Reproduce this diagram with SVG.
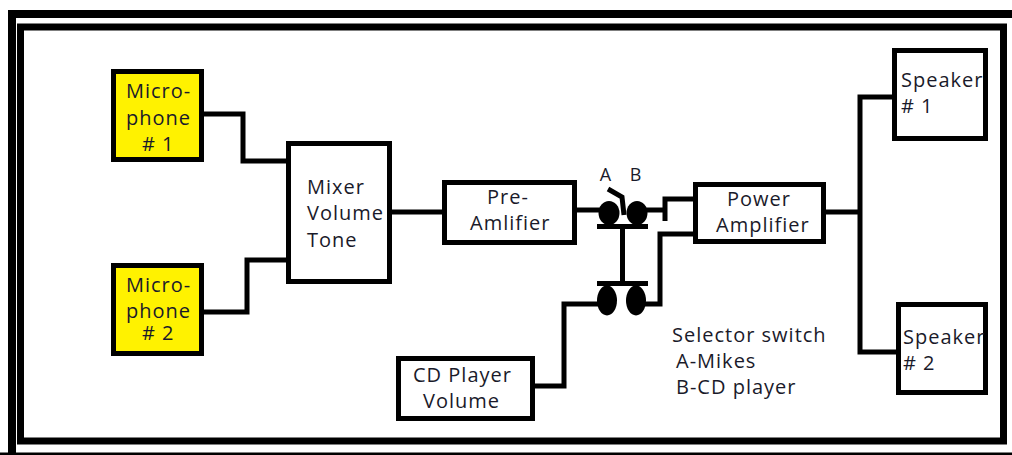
<svg xmlns="http://www.w3.org/2000/svg" width="1012" height="455" viewBox="0 0 1012 455">
<style>
.b{fill:#fff;stroke:#000;stroke-width:5}
.y{fill:#fff200;stroke:#000;stroke-width:5}
.c{fill:none;stroke:#000;stroke-width:5}
.f{fill:#000}
text{font-family:"Open Sans","Noto Sans",sans-serif;font-size:20px;letter-spacing:1px;fill:#1a1a2a;text-anchor:middle}
.l{text-anchor:start}
</style>
<rect width="1012" height="455" fill="#fff"/>
<g id="frame" fill="none" stroke="#000">
<path d="M12 455V14H1012" stroke-width="8"/>
<path d="M1012 454H0" stroke-width="3"/>
<rect x="20.500" y="27" width="983" height="414" stroke-width="7"/>
</g>
<g id="connectors">
<path class="c" d="M203 114H243V161H288"/>
<path class="c" d="M203 312H247V260H288"/>
<path class="c" d="M390 212H444"/>
<path class="c" d="M575 210H600"/>
<path class="c" d="M645 210H665V199H695M665 199V221"/>
<path class="c" d="M695 234H660V304H645"/>
<path class="c" d="M533 386H564V304H600"/>
<path class="c" d="M824 212H860M893 97H860V352H897"/>
<path class="c" d="M622.500 225V282"/>
<path class="c" d="M608 189L622 197L624 215" stroke-width="4"/>
<rect class="f" x="597" y="224" width="51" height="5"/>
<rect class="f" x="597" y="281" width="51" height="5"/>
<ellipse class="f" cx="609" cy="213" rx="10.500" ry="12"/>
<ellipse class="f" cx="637" cy="213" rx="10.500" ry="12"/>
<ellipse class="f" cx="607" cy="300.500" rx="10" ry="15"/>
<ellipse class="f" cx="636" cy="300.500" rx="10" ry="15"/>
</g>
<g id="mic1"><rect class="y" x="113.500" y="71.500" width="88" height="88"/><text class="l" x="126" y="98">Micro-</text><text class="l" x="126" y="125">phone</text><text class="l" x="142" y="151"># 1</text></g>
<g id="mic2"><rect class="y" x="113.500" y="265.500" width="88" height="88"/><text class="l" x="126" y="292">Micro-</text><text class="l" x="126" y="318">phone</text><text class="l" x="142" y="340"># 2</text></g>
<g id="mixer"><rect class="b" x="288.500" y="143.500" width="101" height="138"/><text class="l" x="307" y="194">Mixer</text><text class="l" x="307" y="220">Volume</text><text class="l" x="307" y="247">Tone</text></g>
<g id="preamp"><rect class="b" x="444.500" y="182.500" width="130" height="60"/><text class="l" x="487" y="204">Pre-</text><text class="l" x="470" y="230">Amlifier</text></g>
<g id="cd"><rect class="b" x="398.500" y="358.500" width="134" height="60"/><text class="l" x="413" y="382">CD Player</text><text class="l" x="423" y="408">Volume</text></g>
<g id="power"><rect class="b" x="695.500" y="184.500" width="128" height="57"/><text class="l" x="727" y="206">Power</text><text class="l" x="716" y="232">Amplifier</text></g>
<g id="spk1"><rect class="b" x="894.500" y="50.500" width="91" height="88"/><text class="l" x="901" y="87">Speaker</text><text class="l" x="901" y="113"># 1</text></g>
<g id="spk2"><rect class="b" x="898.500" y="304.500" width="87" height="88"/><text class="l" x="903" y="344">Speaker</text><text class="l" x="903" y="370"># 2</text></g>
<g id="labels">
<text x="606" y="181" style="font-size:18px">A</text><text x="636" y="181" style="font-size:18px">B</text>
<text class="l" x="672" y="342">Selector switch</text>
<text class="l" x="676" y="368">A-Mikes</text>
<text class="l" x="676" y="394">B-CD player</text>
</g>
</svg>
